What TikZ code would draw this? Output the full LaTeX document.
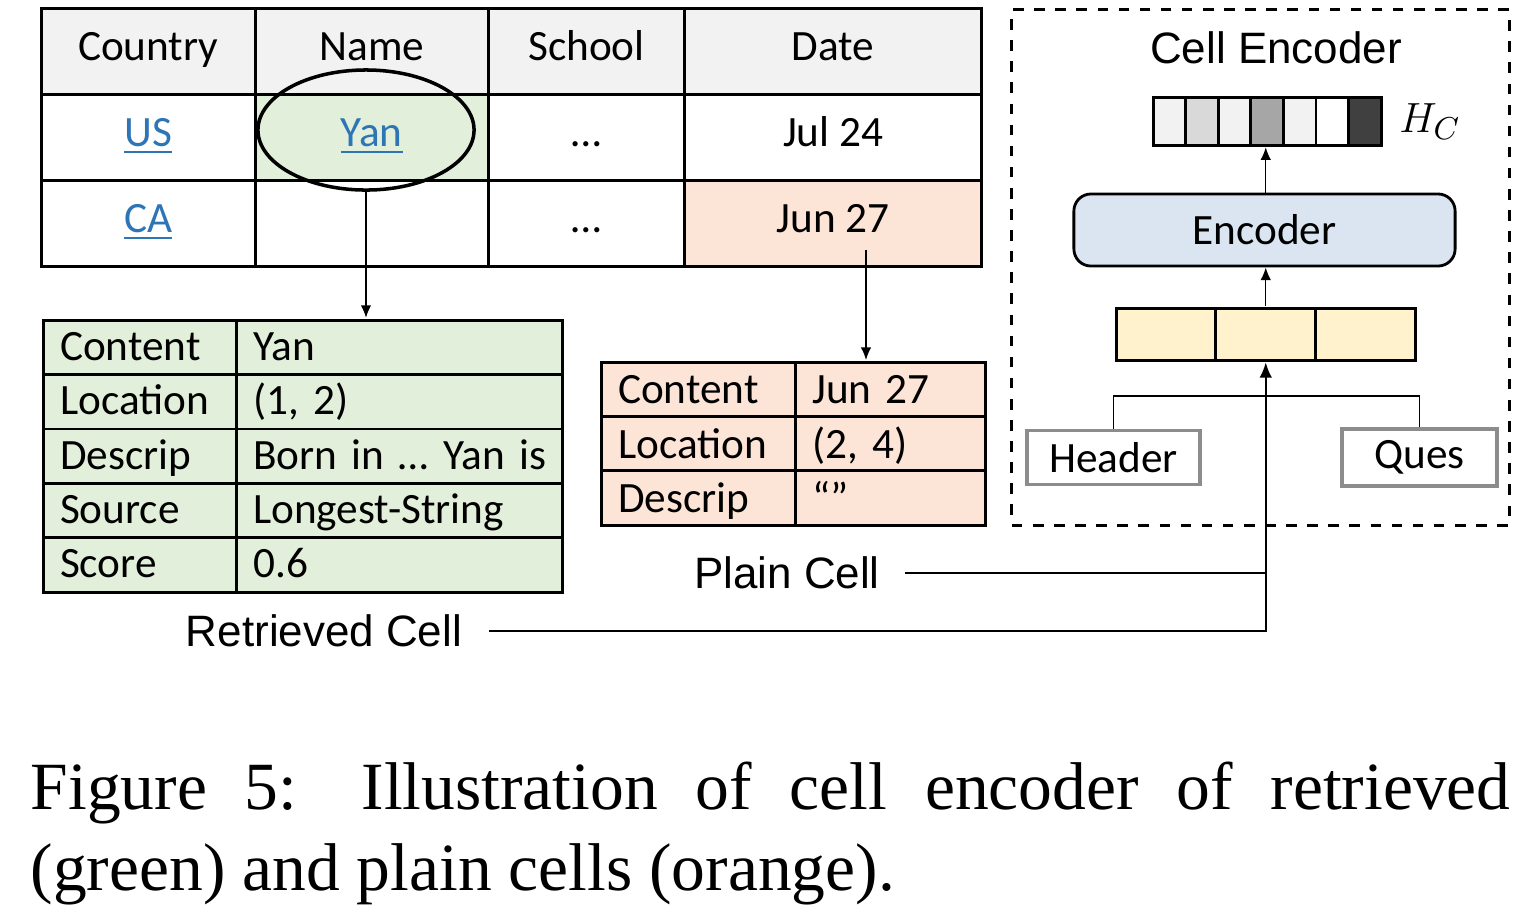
\documentclass[tikz,border=0pt]{standalone}
\usepackage{fontspec}
\setmainfont{Liberation Serif}
\newfontfamily\cellfont{Carlito}
\newfontfamily\labelfont{Liberation Sans}
\usetikzlibrary{matrix,arrows.meta,shapes.geometric}
\definecolor{hdrgray}{HTML}{F2F2F2}
\definecolor{retgreen}{HTML}{E2EFDA}
\definecolor{plainorange}{HTML}{FCE4D6}
\definecolor{linkblue}{HTML}{2E75B6}
\definecolor{encblue}{HTML}{DAE5F1}
\definecolor{catyellow}{HTML}{FFF2CC}
\newcommand\celllink[1]{\textcolor{linkblue}{\underline{#1}}}

\begin{document}
\begin{tikzpicture}[>={Latex[length=3.6pt,width=3pt]}, x=0.01cm, y=-0.01cm,
font=\cellfont\fontsize{12.3}{14}\selectfont]
\useasboundingbox (0,0) rectangle (1521,908);
% source table
\matrix (tab) [matrix of nodes, nodes in empty cells, anchor=north west,
inner sep=0pt, column sep=-0.8pt, row sep=-0.8pt,
nodes={draw, line width=0.8pt, minimum height=0.86cm,
text height=1.6ex, text depth=0.4ex},
row 1/.style={nodes={fill=hdrgray}},
column 1/.style={nodes={minimum width=2.14cm}},
column 2/.style={nodes={minimum width=2.33cm}},
column 3/.style={nodes={minimum width=1.96cm}},
column 4/.style={nodes={minimum width=2.97cm}}] at (39,6)
{
Country & Name & School & Date \\
\celllink{US} & |[fill=retgreen]| \celllink{Yan} & … & Jul 24 \\
\celllink{CA} & & … & |[fill=plainorange]| Jun 27 \\};
\node[draw, ellipse, line width=1pt, minimum width=2.16cm,
minimum height=1.2cm] (sel) at (366,130) {};
% retrieved cell
\matrix (ret) [matrix of nodes, anchor=north west,
inner sep=0pt, column sep=-0.8pt, row sep=-0.8pt,
nodes={draw, fill=retgreen, line width=0.8pt, minimum height=0.544cm,
inner xsep=0.17cm, align=left, text height=1.8ex, text depth=0.2ex},
column 1/.style={nodes={text width=1.59cm}},
column 2/.style={nodes={text width=2.92cm}}] at (41,318)
{
Content & Yan \\
Location & (1, 2) \\
Descrip & \mbox{Born in … Yan is} \\
Source & Longest-String \\
Score & 0.6 \\};
% plain cell
\matrix (pla) [matrix of nodes, anchor=north west,
inner sep=0pt, column sep=-0.8pt, row sep=-0.8pt,
nodes={draw, fill=plainorange, line width=0.8pt, minimum height=0.543cm,
inner xsep=0.17cm, align=left, text height=1.85ex, text depth=0.05ex},
column 1/.style={nodes={text width=1.60cm}},
column 2/.style={nodes={text width=1.56cm}}] at (599,360)
{
Content & Jun 27 \\
Location & (2, 4) \\
Descrip & “” \\};
\coordinate (jun) at (866,250);
\path[->,line width=0.6pt] (sel.south) edge (sel.south |- ret.north);
\path[->] (jun) edge (jun |- pla.north);
% cell encoder
\node[draw, dashed, line width=0.8pt, minimum width=4.97cm,
minimum height=5.15cm] (encbox) at (1260.5,267.5) {};
\node[font=\labelfont\fontsize{12.5}{14}\selectfont] (title) at (1276,48) {Cell Encoder};
\matrix (hc) [matrix of nodes, nodes in empty cells, anchor=north west,
inner sep=0pt, column sep=-0.8pt,
nodes={draw, line width=0.8pt, minimum width=0.3257cm, minimum height=0.48cm},
column 1/.style={nodes={fill=black!5}},
column 2/.style={nodes={fill=black!15}},
column 3/.style={nodes={fill=black!5}},
column 4/.style={nodes={fill=black!35}},
column 5/.style={nodes={fill=black!5}},
column 6/.style={nodes={fill=white}},
column 7/.style={nodes={fill=black!75}}] at (1151,95)
{ & & & & & & \\};
\node (hclab) at (1430,122) {\fontsize{13}{15}\selectfont$H_C$};
\node[draw, fill=encblue, rounded corners=0.17cm, line width=0.8pt,
minimum width=3.81cm, minimum height=0.72cm] (enc) at (1264.5,230) {Encoder};
\matrix (cat) [matrix of nodes, nodes in empty cells, anchor=north west,
inner sep=0pt, column sep=-0.8pt,
nodes={draw, fill=catyellow, line width=0.8pt, minimum width=0.997cm,
minimum height=0.52cm}] at (1114,306)
{ & & \\};
\node[draw=black!45, line width=1pt, minimum width=1.73cm,
minimum height=0.53cm] (hdr) at (1113.5,457.5) {Header};
\node[draw=black!45, line width=1pt, minimum width=1.55cm,
minimum height=0.53cm] (ques) at (1419.5,457.5) {Ques};
\coordinate (join) at (1265,396);
\draw (hdr.north) |- (join) -| (ques.north);
\path[->] (cat.north) edge (cat.north |- enc.south);
\path[->] (cat.north |- enc.north) edge (cat.north |- hc.south);
% cell labels
\node[font=\labelfont\fontsize{12.5}{14}\selectfont] (plab) at (787,573) {Plain Cell};
\node[font=\labelfont\fontsize{12.5}{14}\selectfont] (rlab) at (324,631) {Retrieved Cell};
\draw[->,line width=0.6pt,>={Latex[length=4.4pt,width=3.6pt]}] ([xshift=0.15cm]rlab.east) -| (cat.south);
\draw ([xshift=0.13cm]plab.east) -- (plab.east -| cat.south);
% caption
\node[anchor=north west, inner sep=0pt, text width=14.79cm, align=justify,
font=\rmfamily\fontsize{19.2}{23}\selectfont] (cap) at (30,761)
{Figure 5: Illustration of cell encoder of retrieved\linebreak (green) and plain cells (orange).};
\end{tikzpicture}
\end{document}
